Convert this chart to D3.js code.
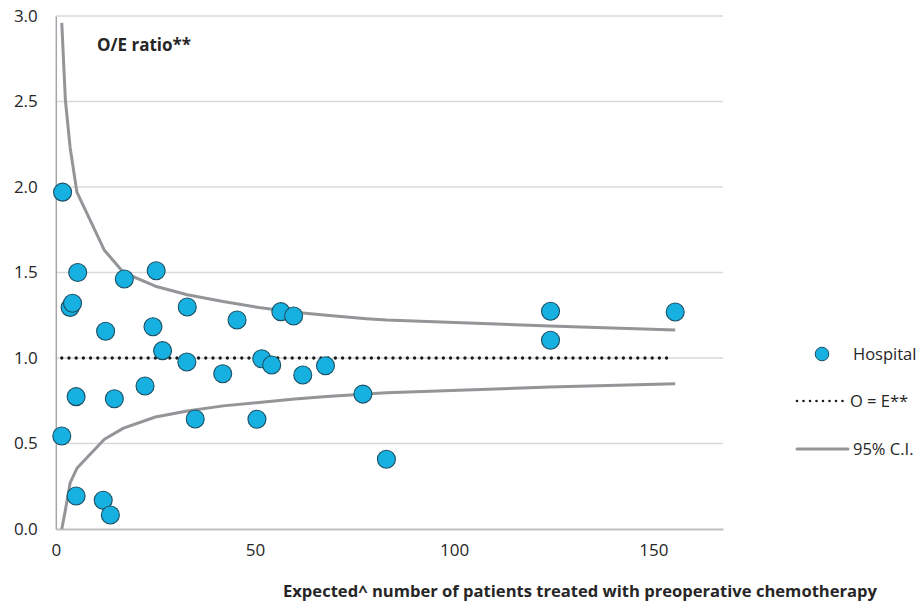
<!DOCTYPE html>
<html><head><meta charset="utf-8">
<script src="https://cdn.jsdelivr.net/npm/d3@7"></script>
<style>
body{margin:0;background:#fff;}
text{font-family:"Open Sans","Noto Sans",sans-serif;}
</style></head>
<body><svg id="c" width="922" height="605"></svg>
<script>
// Hospital points: expected (x) and O/E ratio (y)
const hospExpected = [1.7, 1.5, 3.6, 4.2, 5.5, 5.1, 5.1, 11.9, 13.7, 12.5, 14.7, 17.2, 22.4, 24.4, 25.2, 26.8, 33.0, 32.9, 35.0, 41.9, 45.5, 50.5, 51.7, 54.2, 56.5, 59.7, 62.0, 67.7, 77.1, 83.0, 124.2, 124.2, 155.5];
const hospRatio    = [1.97, 0.544, 1.296, 1.32, 1.50, 0.774, 0.193, 0.168, 0.082, 1.156, 0.762, 1.462, 0.836, 1.183, 1.51, 1.043, 1.298, 0.977, 0.643, 0.908, 1.222, 0.642, 0.996, 0.959, 1.271, 1.246, 0.901, 0.955, 0.789, 0.408, 1.273, 1.104, 1.269];
// 95% control limits
const ciExpected = [1.5, 2.4, 3.6, 5.3, 12.2, 17, 25, 33, 42, 51, 60, 68, 78, 83, 124, 155.5];
const ciUpper    = [2.96, 2.51, 2.23, 1.97, 1.63, 1.50, 1.42, 1.37, 1.33, 1.295, 1.268, 1.25, 1.23, 1.222, 1.187, 1.164];
const ciLower    = [0.0, 0.11, 0.27, 0.355, 0.525, 0.59, 0.655, 0.69, 0.72, 0.74, 0.76, 0.775, 0.79, 0.797, 0.83, 0.85];
// Reference line O = E
const refX = [1.5, 154];
const refY = [1, 1];
const xTicks = [0, 50, 100, 150];
const yTicks = [0, 0.5, 1.0, 1.5, 2.0, 2.5, 3.0];

const svg = d3.select("#c");
const x = d3.scaleLinear().domain([0, 167.5]).range([55.8, 723]);
const y = d3.scaleLinear().domain([0, 3]).range([529, 16]);

// gridlines
svg.append("g").selectAll("line").data(yTicks.filter(d=>d>0)).join("line")
  .attr("x1", x(0)).attr("x2", x(167.5)).attr("y1", d=>y(d)).attr("y2", d=>y(d))
  .attr("stroke", "#d9d9d9").attr("stroke-width", 1.3);

// axes
const yAxis = svg.append("g").attr("transform", `translate(${x(0)},0)`)
  .call(d3.axisLeft(y).tickValues(yTicks).tickFormat(d3.format(".1f")).tickSize(0).tickPadding(18));
const xAxis = svg.append("g").attr("transform", `translate(0,${y(0)})`)
  .call(d3.axisBottom(x).tickValues(xTicks).tickFormat(d3.format("d")).tickSize(0).tickPadding(15));
[yAxis, xAxis].forEach(a=>{
  a.select(".domain").attr("stroke", "#a6a6a6").attr("stroke-width", 1.5);
  a.selectAll("text").attr("font-size", 17).attr("fill", "#262626")
   .attr("font-family", "'Open Sans','Noto Sans',sans-serif");
});
xAxis.select(".domain").attr("stroke", "#bfbfbf").attr("stroke-width", 2);

// CI lines
const ciData = ciExpected.map((e,i)=>({e, u:ciUpper[i], l:ciLower[i]}));
const lineU = d3.line().x(d=>x(d.e)).y(d=>y(d.u));
const lineL = d3.line().x(d=>x(d.e)).y(d=>y(d.l));
svg.append("path").datum(ciData).attr("d", lineU).attr("fill","none")
  .attr("stroke","#939598").attr("stroke-width",3).attr("stroke-linejoin","round");
svg.append("path").datum(ciData).attr("d", lineL).attr("fill","none")
  .attr("stroke","#939598").attr("stroke-width",3).attr("stroke-linejoin","round");

// O = E line
const refData = refX.map((v,i)=>[v, refY[i]]);
svg.append("path").datum(refData)
  .attr("d", d3.line().x(d=>x(d[0])).y(d=>y(d[1])))
  .attr("fill","none").attr("stroke","#1a1a1a").attr("stroke-width",3.3)
  .attr("stroke-linecap","round").attr("stroke-dasharray","0,7.2");

// points
const pts = hospExpected.map((e,i)=>({e, r:hospRatio[i]}));
svg.append("g").selectAll("circle").data(pts).join("circle")
  .attr("cx", d=>x(d.e)).attr("cy", d=>y(d.r)).attr("r", 9)
  .attr("fill", "#16b1e0").attr("stroke", "#1b4f63").attr("stroke-width", 1.1);

// title
svg.append("text").attr("x", 97).attr("y", 51).attr("font-size", 17).attr("font-weight", "bold")
  .attr("fill", "#262626").text("O/E ratio**");
svg.append("text").attr("x", 283).attr("y", 597).attr("font-size", 16.5).attr("font-weight", "bold")
  .attr("fill", "#262626").attr("textLength", 594).attr("lengthAdjust", "spacingAndGlyphs")
  .text("Expected^ number of patients treated with preoperative chemotherapy");

// legend
const lg = svg.append("g");
lg.append("circle").attr("cx", 822).attr("cy", 354).attr("r", 6.8)
  .attr("fill", "#16b1e0").attr("stroke", "#1b4f63").attr("stroke-width", 1);
lg.append("text").attr("x", 853).attr("y", 360).attr("font-size", 16.5).attr("fill","#262626").text("Hospital");
lg.append("line").attr("x1", 797).attr("x2", 843).attr("y1", 401).attr("y2", 401)
  .attr("stroke","#1a1a1a").attr("stroke-width",2.6).attr("stroke-linecap","round").attr("stroke-dasharray","0,6.5");
lg.append("text").attr("x", 850).attr("y", 407).attr("font-size", 16.5).attr("fill","#262626").text("O = E**");
lg.append("line").attr("x1", 797).attr("x2", 848).attr("y1", 449).attr("y2", 449)
  .attr("stroke","#939598").attr("stroke-width",3).attr("stroke-linecap","round");
lg.append("text").attr("x", 853).attr("y", 455).attr("font-size", 16.5).attr("fill","#262626").text("95% C.I.");
</script></body></html>
